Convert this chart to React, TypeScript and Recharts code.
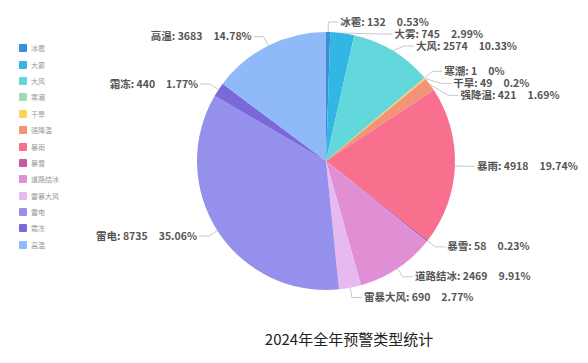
import React from 'react'
import { PieChart, Pie, Cell } from 'recharts'

const categories = ['冰雹', '大雾', '大风', '寒潮', '干旱', '强降温', '暴雨', '暴雪', '道路结冰', '雷暴大风', '雷电', '霜冻', '高温']
const counts = [132, 745, 2574, 1, 49, 421, 4918, 58, 2469, 690, 8735, 440, 3683]
const colors = ['#3a8fd6', '#33b5e5', '#62d8dc', '#9fdcb4', '#f8d45c', '#f39477', '#f8708e', '#c35b9f', '#e08fd4', '#e6b9f0', '#9490ec', '#7b69da', '#8fb9f8']

const title = '2024年全年预警类型统计'

const data = categories.map((name, i) => ({ name, value: counts[i] }))
const total = counts.reduce((a, b) => a + b, 0)

const RAD = Math.PI / 180
const LEN1 = 10
const LEN2 = 10
const GAP = 12
const FONT = '"Noto Sans CJK SC", "Noto Sans", sans-serif'

// echarts-like label placement: push overlapping labels down on each side
function layoutLabels(cx: number, cy: number, r: number) {
  let acc = 0
  const items = counts.map((v, i) => {
    const mid = 90 - ((acc + v / 2) / total) * 360
    acc += v
    const R = r + LEN1
    const y = cy - R * Math.sin(mid * RAD)
    const right = Math.cos(mid * RAD) >= 0
    return { i, y, right }
  })
  for (const side of [true, false]) {
    const list = items.filter(d => d.right === side).sort((a, b) => a.y - b.y)
    for (let k = 1; k < list.length; k++) {
      if (list[k].y < list[k - 1].y + GAP) list[k].y = list[k - 1].y + GAP
    }
  }
  const out: { y: number; right: boolean }[] = []
  items.forEach(d => { out[d.i] = { y: d.y, right: d.right } })
  return out
}

function fmtPct(v: number) {
  return parseFloat(((v / total) * 100).toFixed(2)) + '%'
}

function renderLabel(props: any) {
  const { cx, cy, midAngle, outerRadius, index, name, value } = props
  const layout = layoutLabels(cx, cy, outerRadius)[index]
  const sx = cx + outerRadius * Math.cos(midAngle * RAD)
  const sy = cy - outerRadius * Math.sin(midAngle * RAD)
  const R = outerRadius + LEN1
  const dy = layout.y - cy
  const dx = Math.abs(dy) < R ? Math.sqrt(R * R - dy * dy) : 0
  const ex = layout.right ? cx + dx : cx - dx
  const tx = layout.right ? ex + LEN2 : ex - LEN2
  return (
    <g key={`lbl-${index}`}>
      <polyline points={`${sx},${sy} ${ex},${layout.y} ${tx},${layout.y}`} fill="none" stroke="#c8c8c8" strokeWidth={1} />
      <text
        x={layout.right ? tx + 2 : tx - 2}
        y={layout.y}
        dy={3.5}
        textAnchor={layout.right ? 'start' : 'end'}
        fontSize={10.5}
        fontWeight={600}
        fontFamily={FONT}
        fill="#555"
      >
        <tspan>{`${name}: ${value}`}</tspan>
        <tspan dx={11}>{fmtPct(value)}</tspan>
      </text>
    </g>
  )
}

function LegendList() {
  return (
    <div style={{ position: 'absolute', left: 19, top: 40, display: 'flex', flexDirection: 'column' }}>
      {categories.map((c, i) => (
        <div key={c} style={{ display: 'flex', alignItems: 'center', height: 16.4 }}>
          <span style={{ width: 8, height: 8, background: colors[i], borderRadius: 1, marginRight: 4 }} />
          <span style={{ fontSize: 7, color: '#999', fontFamily: FONT }}>{c}</span>
        </div>
      ))}
    </div>
  )
}

export default function App() {
  return (
    <div style={{ position: 'absolute', left: 0, top: 0, width: 588, height: 363, background: '#fff' }}>
      <PieChart width={588} height={363} margin={{ top: 0, right: 0, bottom: 0, left: 0 }}>
        <Pie
          data={data}
          dataKey="value"
          nameKey="name"
          cx={326}
          cy={161}
          outerRadius={129}
          startAngle={90}
          endAngle={-270}
          stroke="none"
          label={renderLabel}
          labelLine={false}
          isAnimationActive={false}
        >
          {data.map((d, i) => (
            <Cell key={d.name} fill={colors[i]} />
          ))}
        </Pie>
        <text x={349} y={345} textAnchor="middle" fontSize={15} fontFamily={FONT} fill="#222">
          {title}
        </text>
      </PieChart>
      <LegendList />
    </div>
  )
}
